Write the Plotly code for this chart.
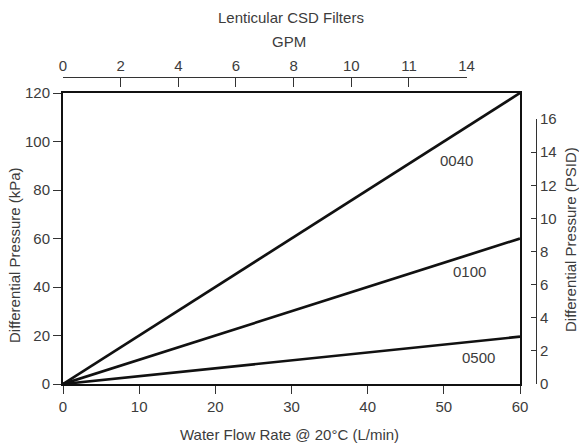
import plotly.graph_objects as go

# ---- data ----
flow_lpm = [0, 60]                 # Water flow rate, L/min
dp_0040 = [0, 120]                 # kPa
dp_0100 = [0, 60]                  # kPa
dp_0500 = [0, 19.5]                # kPa
series_names = ["0040", "0100", "0500"]
series_values = [dp_0040, dp_0100, dp_0500]

x_ticks = [0, 10, 20, 30, 40, 50, 60]
y_ticks = [0, 20, 40, 60, 80, 100, 120]
psid_ticks = [0, 2, 4, 6, 8, 10, 12, 14, 16]
gpm_ticks = [0, 2, 4, 6, 8, 10, 12, 14]
gpm_ticktext = ["0", "2", "4", "6", "8", "10", "11", "14"]

# label anchor points (data coords) for series names
label_x = [51.7, 53.4, 54.5]
label_y = [92, 46.3, 10.8]

FONT = "Liberation Sans, Arial, sans-serif"
TXT = "#3c3c3c"
FS = 15

W, H = 579, 446
ml, mr, mt, mb = 63, 43, 77, 62
pw = W - ml - mr
ph = H - mt - mb

fig = go.Figure()
for name, vals in zip(series_names, series_values):
    fig.add_trace(go.Scatter(x=flow_lpm, y=vals, mode="lines", name=name,
                             line=dict(color="#111111", width=2.7),
                             showlegend=False, hoverinfo="skip"))

# invisible carriers so the secondary axes (GPM, PSID) are drawn
fig.add_trace(go.Scatter(x=gpm_ticks, y=[0] * len(gpm_ticks), xaxis="x2", yaxis="y",
                         mode="markers", marker=dict(opacity=0), showlegend=False,
                         hoverinfo="skip"))
fig.add_trace(go.Scatter(x=[0] * len(psid_ticks), y=psid_ticks, xaxis="x", yaxis="y2",
                         mode="markers", marker=dict(opacity=0), showlegend=False,
                         hoverinfo="skip"))

for name, lx, ly in zip(series_names, label_x, label_y):
    fig.add_annotation(x=lx, y=ly, xref="x", yref="y", text=name, showarrow=False,
                       xanchor="center", yanchor="middle",
                       font=dict(family=FONT, size=FS, color=TXT))

axis_common = dict(showgrid=False, zeroline=False, showline=True,
                   tickfont=dict(family=FONT, size=FS, color=TXT))

fig.update_layout(
    width=W, height=H,
    margin=dict(l=ml, r=mr, t=mt, b=mb, pad=0),
    paper_bgcolor="white", plot_bgcolor="rgba(0,0,0,0)",
    hovermode=False,
    xaxis=dict(domain=[0, 457 / pw], range=[0, 60], tickvals=x_ticks,
               linecolor="#111111", linewidth=2, mirror=True,
               ticks="outside", ticklen=8, tickwidth=1, tickcolor="#333333",
               **axis_common),
    yaxis=dict(domain=[0, 291 / ph], range=[0, 120], tickvals=y_ticks,
               linecolor="#111111", linewidth=2, mirror=True,
               ticks="outside", ticklen=8, tickwidth=1, tickcolor="#333333",
               **axis_common),
    yaxis2=dict(domain=[0, 265 / ph], range=[0, 16], tickvals=psid_ticks,
                anchor="free", position=1, side="right",
                linecolor="#333333", linewidth=1,
                ticks="inside", ticklen=5, tickwidth=1, tickcolor="#333333",
                **axis_common),
    xaxis2=dict(domain=[0, 403.6 / pw], range=[0, 14], tickvals=gpm_ticks,
                ticktext=gpm_ticktext,
                anchor="free", position=1, side="top",
                linecolor="#333333", linewidth=1,
                ticks="inside", ticklen=9, tickwidth=1, tickcolor="#333333",
                **axis_common),
)

# screen pixel -> paper coordinates
def pxx(sx):
    return (sx - ml) / pw

def pxy(sy):
    return (H - mb - sy) / ph

def add_text(sx, sy, text, angle=0):
    fig.add_annotation(x=pxx(sx), y=pxy(sy), xref="paper", yref="paper",
                       text=text, showarrow=False, textangle=angle,
                       xanchor="center", yanchor="middle",
                       font=dict(family=FONT, size=FS, color=TXT))

add_text(291, 18, "Lenticular CSD Filters")
add_text(289, 42, "GPM")
add_text(289, 434, "Water Flow Rate @ 20°C (L/min)")
add_text(14, 255, "Differential Pressure (kPa)", -90)
add_text(570, 240, "Differential Pressure (PSID)", -90)

fig.write_html("out.html",
               config={"displayModeBar": False, "staticPlot": True},
               post_script="document.body.style.margin='0';document.body.style.overflow='hidden';")
